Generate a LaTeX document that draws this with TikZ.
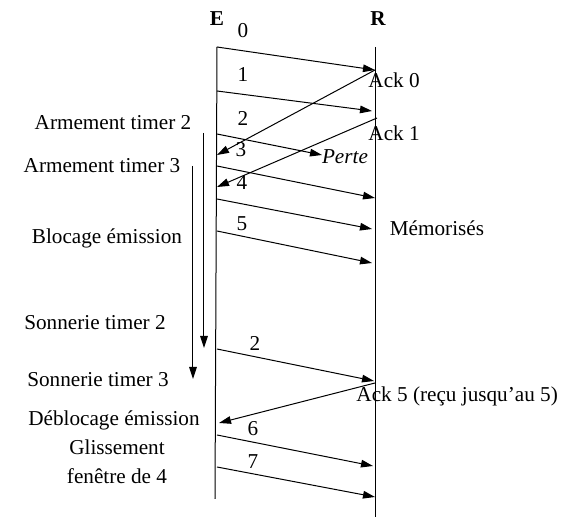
\documentclass[tikz,border=0pt]{standalone}
\usepackage{fontspec}
\setmainfont{Liberation Serif}[Ligatures=Common]
\usetikzlibrary{arrows.meta}

\begin{document}
\begin{tikzpicture}[
    x=0.5pt, y=-0.5pt, line width=0.5pt,
    >={Triangle[length=6pt, width=3.8pt]},
    every node/.style={font=\fontsize{10.6}{12.7}\selectfont, inner sep=0pt},
    msg/.style={->},
    timer/.style={->},
    side/.style={align=center},
    head/.style={font=\fontsize{10.6}{12.7}\selectfont\bfseries}
]
    \useasboundingbox (0,0) rectangle (575,517);

    % Stations
    \node[head] (E) at (217,19) {E};
    \node[head] (R) at (378,19) {R};
    \coordinate (Etop) at (217,47);
    \coordinate (Ebot) at (215,499);
    \coordinate (Rtop) at (376,47);
    \coordinate (Rbot) at (376,517);
    \draw (Etop) -- (Ebot);
    \draw (Rtop) -- (Rbot);

    % Message end points
    \coordinate (s0) at (217,47);  \coordinate (d0) at (375,70);
    \coordinate (s1) at (217,91);  \coordinate (d1) at (372,111);
    \coordinate (s2) at (217,134); \coordinate (lost) at (322,155);
    \coordinate (s3) at (217,166); \coordinate (d3) at (375,198);
    \coordinate (s4) at (217,199); \coordinate (d4) at (372,229);
    \coordinate (s5) at (217,231); \coordinate (d5) at (372,263);
    \coordinate (s2b) at (217,349); \coordinate (d2b) at (374,381);
    \coordinate (s6) at (217,435); \coordinate (d6) at (373,466);
    \coordinate (s7) at (217,467); \coordinate (d7) at (375,497);

    % Acknowledgement end points
    \coordinate (a0) at (375,70);  \coordinate (b0) at (217,155);
    \coordinate (a1) at (377,118); \coordinate (b1) at (217,187);
    \coordinate (a5) at (375,383); \coordinate (b5) at (219,423);

    % Data frames
    \path (s0) edge[msg] (d0)
          (s1) edge[msg] (d1)
          (s2) edge[msg] (lost)
          (s3) edge[msg] (d3)
          (s4) edge[msg] (d4)
          (s5) edge[msg] (d5)
          (s2b) edge[msg] (d2b)
          (s6) edge[msg] (d6)
          (s7) edge[msg] (d7);

    % Acknowledgements
    \path (a0) edge[msg] (b0)
          (a1) edge[msg] (b1)
          (a5) edge[msg] (b5);

    % Frame numbers
    \node (n0) at (243,31) {0};
    \node (n1) at (243,75) {1};
    \node (n2) at (243,118) {2};
    \node (n3) at (241,150) {3};
    \node (n4) at (242,183) {4};
    \node (n5) at (242,224) {5};
    \node (n2b) at (255,343) {2};
    \node (n6) at (253,429) {6};
    \node (n7) at (253,462) {7};

    % Receiver side labels
    \node[anchor=west] (ack0) at (368,80) {Ack 0};
    \node[anchor=west] (ack1) at (368,133) {Ack 1};
    \node[font=\fontsize{10.6}{12.7}\selectfont\itshape] (perte) at (345,157) {Perte};
    \node (memo) at (437,228) {Mémorisés};
    \node[anchor=west] (ack5) at (356,396) {Ack 5 (reçu jusqu'au 5)};

    % Timers
    \coordinate (t2a) at (204,133); \coordinate (t2b) at (204,348);
    \coordinate (t3a) at (193,166); \coordinate (t3b) at (193,379);
    \draw[timer] (t2a) -- (t2b);
    \draw[timer] (t3a) -- (t3b);

    % Sender side labels
    \node (arm2) at (113,123) {Armement timer 2};
    \node (arm3) at (102,166) {Armement timer 3};
    \node (bloc) at (107,238) {Blocage émission};
    \node (son2) at (95,323) {Sonnerie timer 2};
    \node (son3) at (98,380) {Sonnerie timer 3};
    \node (debl) at (114,420) {Déblocage émission};
    \node[side] (gliss) at (117,462) {Glissement\\[2pt]fenêtre de 4};

\end{tikzpicture}
\end{document}
